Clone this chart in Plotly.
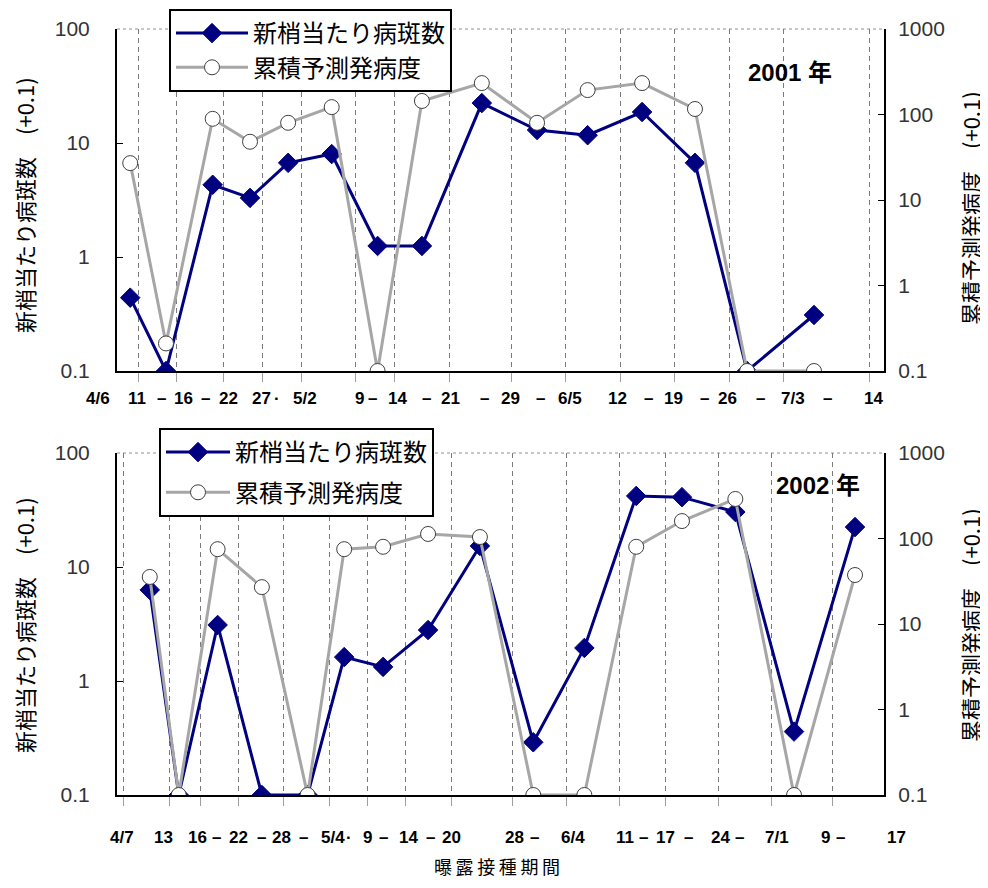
import plotly.graph_objects as go

# ---------------- data ----------------
# x: day counted from 3/31 (4/1 = 1, 5/1 = 31, 6/1 = 62, 7/1 = 92)
top_x = [10.0, 14.6, 20.6, 25.4, 30.3, 35.9, 41.8, 47.5, 55.2, 62.3, 68.8, 75.8, 82.6, 89.3, 97.9]
top_lesions = [0.44, 0.1, 4.3, 3.3, 6.7, 8.0, 1.25, 1.25, 22.4, 13.0, 11.7, 18.7, 6.7, 0.1, 0.31]
top_severity = [27, 0.21, 89, 48, 80, 122, 0.1, 144, 233, 80, 193, 233, 116, 0.1, 0.1]

bot_x = [10.4, 14.2, 19.3, 25.1, 31.1, 35.9, 41.0, 46.9, 53.7, 60.7, 67.4, 74.2, 80.2, 87.2, 94.9, 102.9]
bot_lesions = [6.3, 0.1, 3.1, 0.1, 0.1, 1.62, 1.33, 2.8, 15.3, 0.29, 1.95, 42, 41, 30.4, 0.36, 22.4]
bot_severity = [35.5, 0.1, 75, 27, 0.1, 75, 80, 113, 104, 0.1, 0.1, 80, 160, 290, 0.1, 37.4]

# exposure period boundaries (gridlines)
top_grid = [11, 16, 22, 27, 32, 39, 44, 51, 59, 66, 73, 80, 87, 94, 105]
bot_grid = [7, 13, 17, 22, 28, 34, 39, 44, 50, 58, 65, 72, 78, 85, 92, 100]

# period labels under the axes
top_labels = ["4/6", "11", "16", "22", "27", "5/2", "9", "14", "21", "29", "6/5", "12", "19", "26", "7/3", "14"]
top_label_x = [5.8, 10.9, 16.8, 22.6, 26.9, 32.5, 39.5, 44.4, 51.2, 58.9, 66.5, 72.6, 79.8, 86.8, 95.2, 105.6]
top_dash_x = [14.0, 19.7, 41.1, 48.1, 55.5, 62.7, 76.6, 83.8, 91.0, 99.7]
top_dot_x = [28.9]

bot_labels = ["4/7", "13", "16", "22", "28", "5/4", "9", "14", "20", "28", "6/4", "11", "17", "24", "7/1", "9", "17"]
bot_label_x = [6.7, 12.2, 16.7, 22.1, 27.7, 34.4, 39.0, 44.3, 50.0, 58.2, 65.9, 72.7, 78.0, 85.2, 92.7, 99.0, 108.4]
bot_dash_x = [19.2, 25.1, 30.6, 41.1, 47.2, 60.9, 75.2, 81.0, 87.8, 101.0]
bot_dot_x = [36.5]

left_ticks = [0.1, 1, 10, 100]
right_ticks = [0.1, 1, 10, 100, 1000]
name_lesions = "新梢当たり病斑数"
name_severity = "累積予測発病度"
title_left = "新梢当たり病斑数\u2003(+0.1)"
title_right = "累積予測発病度\u2003(+0.1)"
years = ["2001 年", "2002 年"]
x_title = "\u2009".join("曝露接種期間")

# ---------------- styling ----------------
BLUE = "#000080"
GRAY = "#A6A6A6"
CJK = "Noto Sans CJK JP"
NUM = "Liberation Sans"

TOP_RANGE = [8.3, 106.9]
BOT_RANGE = [6.1, 106.7]

# page is shown with the browser's 8px body margin: figure is 980x880, placed at (8, 8)
W, H = 980, 880
OFF = 8
PL, PR, PT, PB = 117, 884, 29, 795       # plot-area edges in page pixels
PW, PH = PR - PL, PB - PT

def paper_x(px):
    return (px - PL) / PW

def paper_y(py):
    return (PB - py) / PH

fig = go.Figure()

def add_pair(x, blue, gray, xa, ya, ya2, legend, groups):
    fig.add_trace(go.Scatter(
        x=x, y=blue, name=name_lesions, mode="lines+markers",
        line=dict(color=BLUE, width=3),
        marker=dict(symbol="diamond", size=15, color=BLUE, line=dict(color=BLUE, width=1)),
        xaxis=xa, yaxis=ya, legend=legend, legendgroup=groups[0]))
    fig.add_trace(go.Scatter(
        x=x, y=gray, name=name_severity, mode="lines+markers",
        line=dict(color=GRAY, width=3),
        marker=dict(symbol="circle", size=15, color="white", line=dict(color="#404040", width=1)),
        xaxis=xa, yaxis=ya2, legend=legend, legendgroup=groups[1]))

add_pair(top_x, top_lesions, top_severity, "x", "y", "y2", "legend", ("a", "a"))
add_pair(bot_x, bot_lesions, bot_severity, "x2", "y3", "y4", "legend2", ("b1", "b2"))

top_dom = [paper_y(371), 1.0]
bot_dom = [0.0, paper_y(453)]

def xaxis_cfg(grid, rng, anchor):
    return dict(
        domain=[0, 1], anchor=anchor, range=rng, type="linear",
        tickmode="array", tickvals=grid, showticklabels=False,
        showgrid=True, gridcolor="#7A7A7A", gridwidth=1, griddash="5px,4px",
        ticks="outside", ticklen=9, tickcolor="#A0A0A0", tickwidth=1,
        showline=True, linecolor="black", linewidth=2, zeroline=False)

def yaxis_cfg(dom, rng, ticks, anchor, side="left", overlaying=None):
    d = dict(
        domain=dom, anchor=anchor, type="log", range=rng,
        tickmode="array", tickvals=ticks, ticktext=[("%g" % t) for t in ticks],
        ticks="inside", ticklen=6, tickcolor="black", tickwidth=1,
        showline=True, linecolor="black", linewidth=2,
        showgrid=False, zeroline=False, side=side,
        ticklabelstandoff=21 if side == "left" else 8,
        tickfont=dict(family=NUM, size=21, color="#333333"))
    if overlaying:
        d["overlaying"] = overlaying
    return d

fig.update_layout(
    width=W, height=H,
    margin=dict(l=PL - OFF, r=W - (PR - OFF), t=PT - OFF, b=H - (PB - OFF), autoexpand=False),
    paper_bgcolor="white", plot_bgcolor="white",
    showlegend=True,
    xaxis=xaxis_cfg(top_grid, TOP_RANGE, "y"),
    xaxis2=xaxis_cfg(bot_grid, BOT_RANGE, "y3"),
    yaxis=yaxis_cfg(top_dom, [-1, 2], left_ticks, "x"),
    yaxis2=yaxis_cfg(top_dom, [-1, 3], right_ticks, "x", "right", "y"),
    yaxis3=yaxis_cfg(bot_dom, [-1, 2], left_ticks, "x2"),
    yaxis4=yaxis_cfg(bot_dom, [-1, 3], right_ticks, "x2", "right", "y3"),
    legend=dict(x=paper_x(169), y=paper_y(9), xanchor="left", yanchor="top",
                bgcolor="white", bordercolor="black", borderwidth=2,
                font=dict(family=CJK, size=24, color="black"),
                itemwidth=72, tracegroupgap=0),
    legend2=dict(x=paper_x(159), y=paper_y(428), xanchor="left", yanchor="top",
                 bgcolor="white", bordercolor="black", borderwidth=2,
                 font=dict(family=CJK, size=24, color="black"),
                 itemwidth=64, tracegroupgap=6),
)

# top border (dotted) of each plot area
for xr, yr in [("x domain", "y domain"), ("x2 domain", "y3 domain")]:
    fig.add_shape(type="line", xref=xr, yref=yr, x0=0, x1=1, y0=1, y1=1,
                  line=dict(color="#909090", width=1, dash="dot"), layer="below")

ann = []
label_font = dict(family=NUM, size=17, color="black")

def period_labels(rng, ypix, labels, lx, dashes, dots):
    # labels may lie just outside the axis range, so map days to paper x via the axis range
    y = paper_y(ypix)
    def px(d):
        return (d - rng[0]) / (rng[1] - rng[0])
    items = list(zip(labels, lx)) + [("–", d) for d in dashes] + [("·", d) for d in dots]
    for t, xv in items:
        ann.append(dict(x=px(xv), y=y, xref="paper", yref="paper", text="<b>%s</b>" % t,
                        showarrow=False, xanchor="center", yanchor="middle", font=label_font))

period_labels(TOP_RANGE, 398, top_labels, top_label_x, top_dash_x, top_dot_x)
period_labels(BOT_RANGE, 837, bot_labels, bot_label_x, bot_dash_x, bot_dot_x)

title_font = dict(family=CJK, size=22, color="black")
for yl, yr in [(205, 208), (625, 625)]:
    ann.append(dict(x=paper_x(24), y=paper_y(yl), xref="paper", yref="paper", text=title_left,
                    textangle=-90, showarrow=False, xanchor="center", yanchor="middle", font=title_font))
    ann.append(dict(x=paper_x(970), y=paper_y(yr), xref="paper", yref="paper", text=title_right,
                    textangle=-90, showarrow=False, xanchor="center", yanchor="middle", font=title_font))

year_font = dict(family=NUM + ", " + CJK, size=24, color="black")
ann.append(dict(x=paper_x(790), y=paper_y(72), xref="paper", yref="paper", xanchor="center",
                yanchor="middle", text="<b>%s</b>" % years[0], showarrow=False, font=year_font))
ann.append(dict(x=paper_x(818), y=paper_y(486), xref="paper", yref="paper", xanchor="center",
                yanchor="middle", text="<b>%s</b>" % years[1], showarrow=False, font=year_font))

ann.append(dict(x=paper_x(497), y=paper_y(866), xref="paper", yref="paper", xanchor="center",
                yanchor="middle", text=x_title, showarrow=False,
                font=dict(family=CJK, size=18, color="black")))

fig.update_layout(annotations=ann)
fig.write_html("out.html")
